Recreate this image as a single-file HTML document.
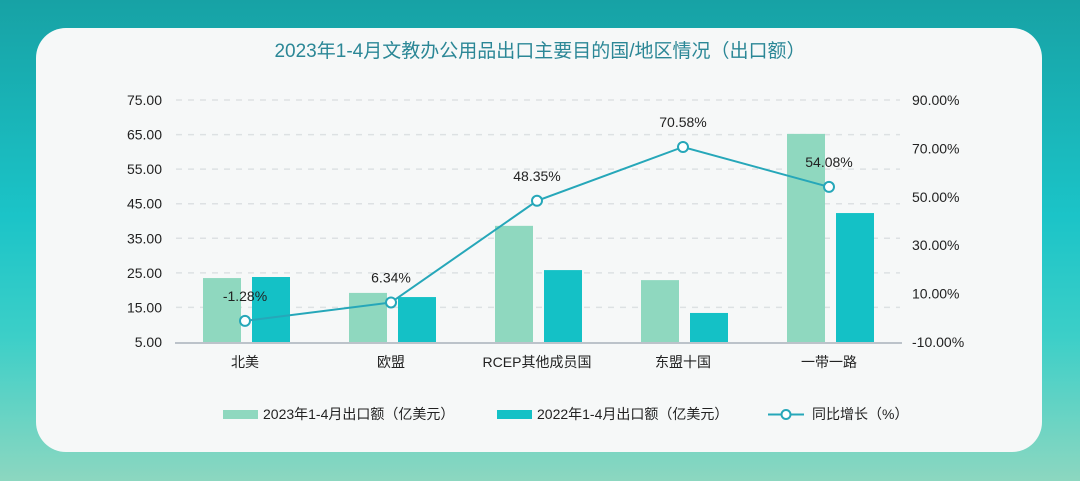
<!DOCTYPE html>
<html><head><meta charset="utf-8"><style>
html,body{margin:0;padding:0}
body{width:1080px;height:481px;overflow:hidden;background:linear-gradient(180deg,#17a2a5 0%,#1bc4c8 45%,#3ccfc8 70%,#8cd7c0 100%);font-family:"Liberation Sans","Noto Sans CJK SC",sans-serif}
#card{position:absolute;left:36px;top:28px;width:1006px;height:424px;background:#f6f8f8;border-radius:30px}
svg{position:absolute;left:0;top:0}
</style></head><body>
<div id="card"></div>
<svg id="chart" width="1080" height="481">
<text x="540" y="57" text-anchor="middle" font-size="19" fill="#2b8796">2023年1-4月文教办公用品出口主要目的国/地区情况（出口额）</text>
<g id="grid"></g><g id="bars"></g><g id="line"></g><g id="axes"></g>
<g id="legend" font-size="14" fill="#222">
<rect x="223" y="410" width="35" height="9" fill="#8fd8bf"/>
<text x="263" y="419">2023年1-4月出口额（亿美元）</text>
<rect x="497" y="410" width="35" height="9" fill="#14c1c6"/>
<text x="537" y="419">2022年1-4月出口额（亿美元）</text>
<line x1="768" y1="414.5" x2="804" y2="414.5" stroke="#26a7b9" stroke-width="2"/>
<circle cx="786" cy="414.5" r="4.5" fill="#fff" stroke="#26a7b9" stroke-width="2"/>
<text x="812" y="419">同比增长（%）</text>
</g>
</svg>
<script>
const categories=["北美","欧盟","RCEP其他成员国","东盟十国","一带一路"];
const values2023=[23.5,19.2,38.6,22.9,65.2];
const values2022=[23.8,18.0,25.8,13.4,42.3];
const growth=[-1.28,6.34,48.35,70.58,54.08];
const growthLabels=["-1.28%","6.34%","48.35%","70.58%","54.08%"];
const leftTicks=[5,15,25,35,45,55,65,75];
const rightTicks=[-10,10,30,50,70,90];

const NS="http://www.w3.org/2000/svg";
const X0=172,X1=902,Y0=342,Y1=100;
const band=(X1-X0)/categories.length;
const yL=v=>Y0-(v-5)/(75-5)*(Y0-Y1);
const yR=v=>Y0-(v+10)/(90+10)*(Y0-Y1);
const xc=i=>X0+band*(i+0.5);
function mk(tag,attrs,parent,txt){const e=document.createElementNS(NS,tag);for(const k in attrs)e.setAttribute(k,attrs[k]);if(txt!==undefined)e.textContent=txt;document.getElementById(parent).appendChild(e);return e;}
leftTicks.forEach(t=>{
  if(t!==5){const g=mk('line',{x1:X0+4,x2:X1-2,y1:yL(t),y2:yL(t),stroke:'#dde1e3','stroke-width':1.5,'stroke-dasharray':'6,6'},'grid');
  
  }
  const l=mk('text',{x:162,y:yL(t)+5,'text-anchor':'end','font-size':14,fill:'#222'},'axes',t.toFixed(2));
  
  
});
rightTicks.forEach(t=>{
  const l=mk('text',{x:912,y:yR(t)+5,'font-size':14,fill:'#222'},'axes',t.toFixed(2)+'%');
  
  
});
const ax=mk('line',{x1:X0+3,x2:X1,y1:Y0+1,y2:Y0+1,stroke:'#a9b1ba','stroke-width':1.5},'axes');


const bw=38;
categories.forEach((c,i)=>{
  const b1=mk('rect',{x:xc(i)-bw-4,y:yL(values2023[i]),width:bw,height:Y0-yL(values2023[i]),fill:'#8fd8bf'},'bars');
  
  
  const b2=mk('rect',{x:xc(i)+7,y:yL(values2022[i]),width:bw,height:Y0-yL(values2022[i]),fill:'#14c1c6'},'bars');
  
  
  const t=mk('text',{x:xc(i),y:367,'text-anchor':'middle','font-size':14,fill:'#222'},'axes',c);
  
  
});
const pts=growth.map((g,i)=>xc(i)+','+yR(g)).join(' ');
const pl=mk('polyline',{points:pts,fill:'none',stroke:'#26a7b9','stroke-width':2},'line');


growth.forEach((g,i)=>{
  const c=mk('circle',{cx:xc(i),cy:yR(g),r:5,fill:'#fff',stroke:'#26a7b9','stroke-width':2},'line');
  
  
  const t=mk('text',{x:xc(i),y:yR(g)-20,'text-anchor':'middle','font-size':14,fill:'#222'},'line',growthLabels[i]);
  
  
});
</script>
</body></html>
